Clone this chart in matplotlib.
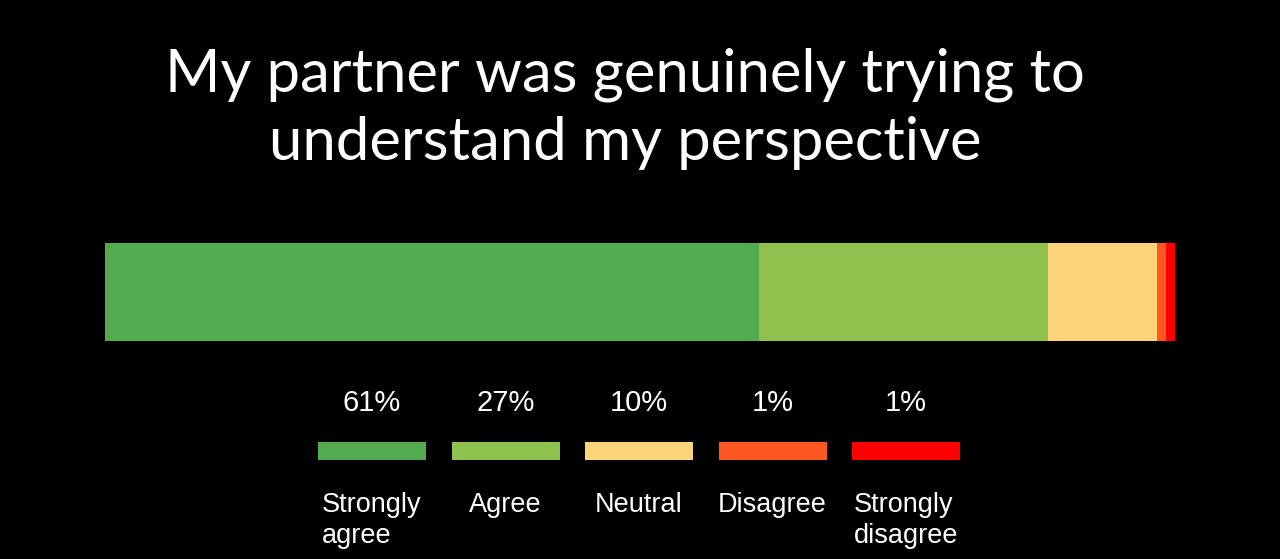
"""Stacked agreement bar for a single survey question."""

import matplotlib

matplotlib.use("Agg")
import matplotlib.pyplot as plt

title = "My partner was genuinely trying to\nunderstand my perspective"
categories = ["Strongly\nagree", "Agree", "Neutral", "Disagree", "Strongly\ndisagree"]
shares = [61.1, 27.0, 10.2, 0.9, 0.8]  # labels show rounded
colors = ["#52ac4f", "#8fc14f", "#fed47a", "#fd5722", "#fe0000"]

W, H = 1280, 559
fig = plt.figure(figsize=(W / 100, H / 100), dpi=100, facecolor="black")


def px_axes(x0, y0, x1, y1):
    # pixel box (top-left origin) -> figure axes
    return fig.add_axes([x0 / W, 1 - y1 / H, (x1 - x0) / W, (y1 - y0) / H])


fig.text(625 / W, 1 - 92 / H, title.split("\n")[0], ha="center", va="baseline",
         color="white", fontsize=43, family="Lato")
fig.text(625 / W, 1 - 160 / H, title.split("\n")[1], ha="center", va="baseline",
         color="white", fontsize=43, family="Lato")

# stacked bar
ax = px_axes(105, 243, 1175, 341)
ax.set_facecolor("black")
left = 0
for share, color in zip(shares, colors):
    ax.barh(0, share, left=left, height=1, color=color, linewidth=0)
    left += share
ax.set_xlim(0, sum(shares))
ax.set_ylim(-0.5, 0.5)
ax.axis("off")

# legend: one swatch per category, value above, name below
lg = px_axes(318, 380, 960, 559)
lg.set_facecolor("none")
pitch = 133.5
lg.set_xlim(0, 642 / pitch)
lg.set_ylim(559, 380)
sw = 108 / pitch
for i, (cat, share, color) in enumerate(zip(categories, shares, colors)):
    lg.bar(i, 18, bottom=442, width=sw, align="edge", color=color, linewidth=0)
    lg.text(i + sw / 2, 403, f"{round(share)}%", ha="center", va="center", color="white",
            fontsize=21, family="Liberation Sans")
    # baseline alignment uses the last line, so shift down for two-line labels
    nlines = cat.count("\n") + 1
    lg.text(i + sw / 2, 512 + 31 * (nlines - 1), cat, ha="center", va="baseline",
            multialignment="left", color="white", fontsize=19.5,
            family="Liberation Sans", linespacing=1.24)
lg.axis("off")

fig.savefig("out.png", dpi=100, facecolor="black")
